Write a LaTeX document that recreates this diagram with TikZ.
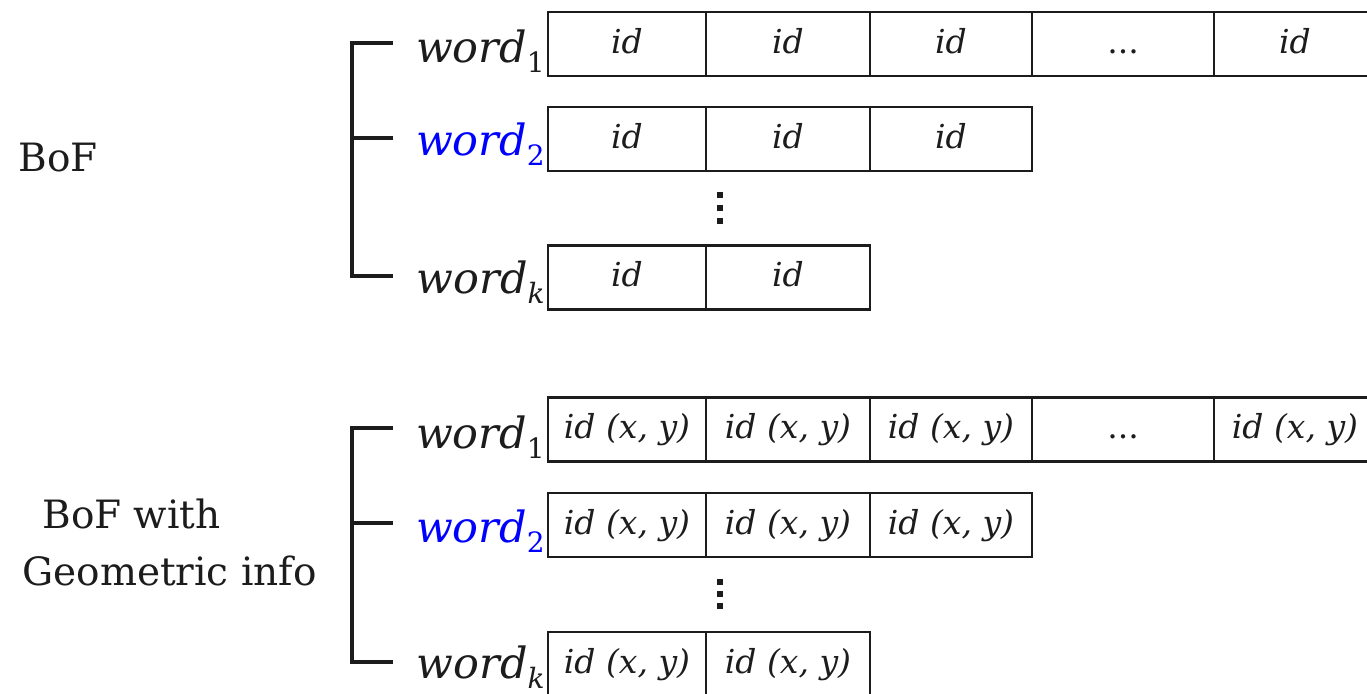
\documentclass[tikz,border=0pt]{standalone}
\usepackage{fontspec}
\setmainfont{DejaVu Serif}
\definecolor{ink}{HTML}{1C1C1C}
\definecolor{wblue}{RGB}{0,0,255}
% subscript of a word label
\newcommand\wsub[1]{\raisebox{-5pt}{\fontsize{14}{14}\selectfont #1}}
\begin{document}
\begin{tikzpicture}[x=0.5pt,y=-0.5pt,
  cell/.style={draw=ink, line width=1.2pt, inner sep=0pt, minimum height=32pt,
    text height=0.9em, text depth=0pt,
    font=\fontsize{16.5}{16.5}\selectfont\itshape, text=ink},
  wordlbl/.style={inner sep=0pt, anchor=base east, text=ink,
    font=\fontsize{21.5}{21.5}\selectfont\itshape},
  grouplbl/.style={inner sep=0pt, anchor=base west, text=ink,
    font=\fontsize{19.5}{19.5}\selectfont},
  brk/.style={draw=ink, line width=1.8pt},
  dotsq/.style={fill=ink, inner sep=0pt, minimum width=3pt, minimum height=2.6pt}]
\useasboundingbox (0,0) rectangle (1367,693);
\clip (0,0) rectangle (1367,693);

% ---------- plain bag of features ----------
\node[grouplbl] (bof) at (18,171) {BoF};

\coordinate (p1) at (393,43);
\coordinate (p2) at (393,138);
\coordinate (pk) at (393,276);
\coordinate (pv1) at (352,43);
\coordinate (pv2) at (352,138);
\draw[brk] (p1) -- (pv1) |- (pk);
\draw[brk] (p2) -- (pv2);

\node[wordlbl] (pw1) at (545,62) {word\wsub{\upshape 1}};
\node[wordlbl, text=wblue] (pw2) at (545,155) {word\wsub{\upshape 2}};
\node[wordlbl] (pwk) at (545,293) {word\wsub{k}};

% row of word 1
\node[cell, minimum width=79pt] (pa1) at (627,44) {id};
\node[cell, minimum width=82pt] (pa2) at (788,44) {id};
\node[cell, minimum width=81pt] (pa3) at (951,44) {id};
\node[cell, minimum width=91pt] (pa4) at (1123,44) {\upshape...};
\node[cell, minimum width=81pt] (pa5) at (1295,44) {id};
% row of word 2
\node[cell, minimum width=79pt] (pb1) at (627,139) {id};
\node[cell, minimum width=82pt] (pb2) at (788,139) {id};
\node[cell, minimum width=81pt] (pb3) at (951,139) {id};
% vertical ellipsis
\node[dotsq] (pd1) at (720,195) {};
\node[dotsq] (pd2) at (720,208) {};
\node[dotsq] (pd3) at (720,221) {};
% row of word k
\node[cell, minimum width=79pt] (pc1) at (627,277.5) {id};
\node[cell, minimum width=82pt] (pc2) at (788,277.5) {id};

% ---------- bag of features with geometric info ----------
\node[grouplbl] (gof1) at (42,528) {BoF with};
\node[grouplbl] (gof2) at (22,585) {Geometric info};

\coordinate (g1) at (393,428);
\coordinate (g2) at (393,523);
\coordinate (gk) at (393,662);
\coordinate (gv1) at (352,428);
\coordinate (gv2) at (352,523);
\draw[brk] (g1) -- (gv1) |- (gk);
\draw[brk] (g2) -- (gv2);

\node[wordlbl] (gw1) at (545,448) {word\wsub{\upshape 1}};
\node[wordlbl, text=wblue] (gw2) at (545,542) {word\wsub{\upshape 2}};
\node[wordlbl] (gwk) at (545,678) {word\wsub{k}};

% row of word 1
\node[cell, minimum width=79pt] (ga1) at (627,429.5) {id (x, y)};
\node[cell, minimum width=82pt] (ga2) at (788,429.5) {id (x, y)};
\node[cell, minimum width=81pt] (ga3) at (951,429.5) {id (x, y)};
\node[cell, minimum width=91pt] (ga4) at (1123,429.5) {\upshape...};
\node[cell, minimum width=81pt] (ga5) at (1295,429.5) {id (x, y)};
% row of word 2
\node[cell, minimum width=79pt] (gb1) at (627,525) {id (x, y)};
\node[cell, minimum width=82pt] (gb2) at (788,525) {id (x, y)};
\node[cell, minimum width=81pt] (gb3) at (951,525) {id (x, y)};
% vertical ellipsis
\node[dotsq] (gd1) at (720,582) {};
\node[dotsq] (gd2) at (720,594) {};
\node[dotsq] (gd3) at (720,606) {};
% row of word k (runs past the lower edge)
\node[cell, minimum width=79pt] (gc1) at (627,664) {id (x, y)};
\node[cell, minimum width=82pt] (gc2) at (788,664) {id (x, y)};
\end{tikzpicture}
\end{document}
